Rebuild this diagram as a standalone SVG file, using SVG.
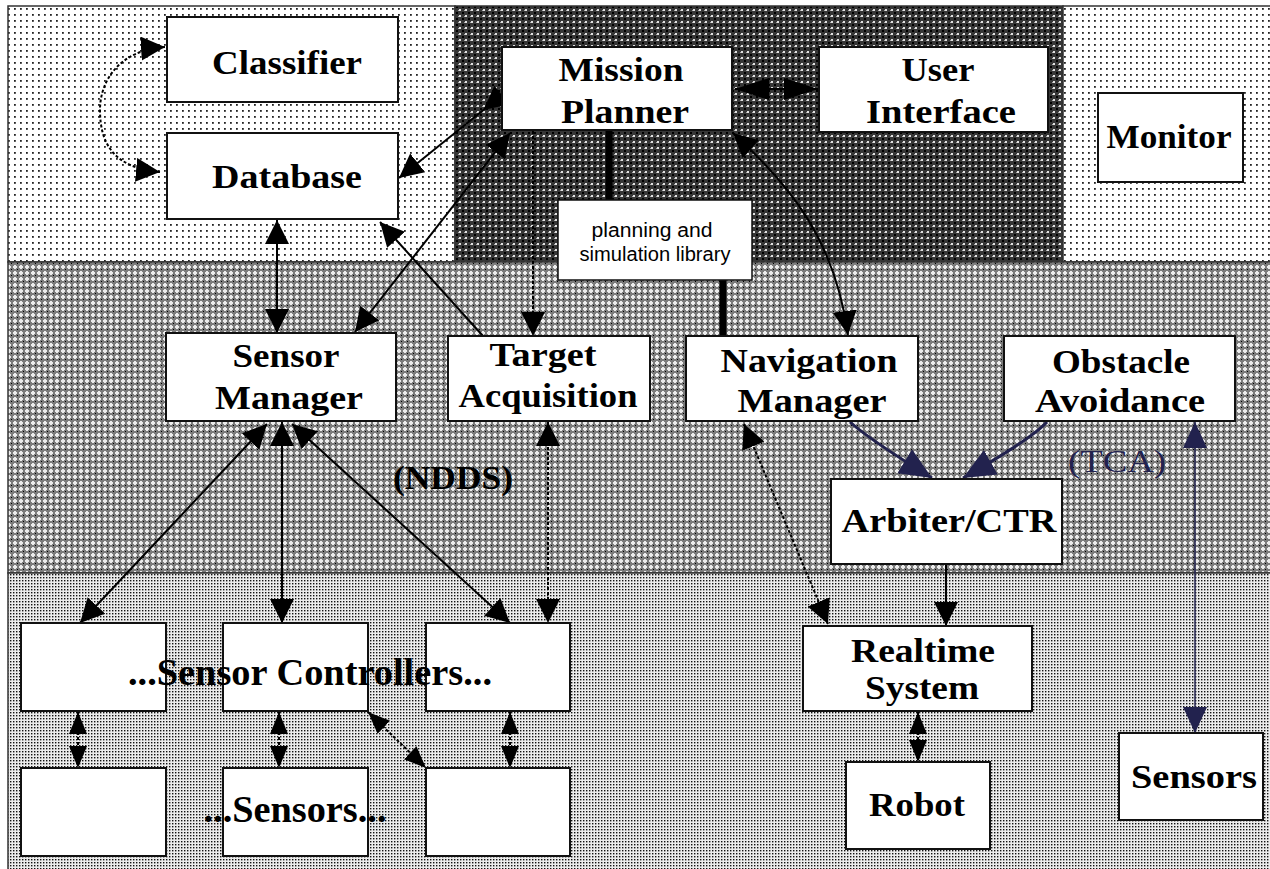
<svg xmlns="http://www.w3.org/2000/svg" width="1270" height="869" viewBox="0 0 1270 869">
<style>
.box{fill:#fff;stroke:#111;stroke-width:2}
.lbl{font-family:"Liberation Serif","Times New Roman",serif;font-weight:bold;font-size:34px;fill:#000;text-anchor:middle}
.big{font-size:37px}
.sans{font-family:"Liberation Sans",Arial,sans-serif;font-weight:normal;font-size:20px;fill:#000;text-anchor:middle}
.tca{font-family:"Liberation Serif","Times New Roman",serif;font-size:32px;fill:#22224e;text-anchor:middle}
.ln{fill:none;stroke:#000;stroke-width:2}
.dash{stroke-dasharray:3 2}
.thick{fill:none;stroke:#000;stroke-width:7}
.navy{fill:none;stroke:#22224e;stroke-width:3}
.navythin{fill:none;stroke:#22224e;stroke-width:1.5}
.panel{stroke:#333;stroke-width:1.5}
</style>
<defs>
<pattern id="dots" width="6" height="6" patternUnits="userSpaceOnUse">
<rect width="6" height="6" fill="#fff"/>
<rect x="2" y="2" width="1.8" height="1.8" fill="#222"/>
</pattern>
<pattern id="dark" width="6" height="6" patternUnits="userSpaceOnUse">
<rect width="6" height="6" fill="#363636"/>
<rect x="0" y="0" width="2" height="2" fill="#000"/>
<rect x="3" y="3" width="2" height="2" fill="#e0e0e0"/>
<rect x="2" y="4" width="1" height="1" fill="#aaa"/>
</pattern>
<pattern id="mid" width="6" height="6" patternUnits="userSpaceOnUse">
<rect width="6" height="6" fill="#7c7c7c"/>
<rect x="2" y="1" width="2" height="4" fill="#ececec"/>
<rect x="1" y="2" width="4" height="2" fill="#ececec"/>
<rect x="5" y="5" width="1" height="1" fill="#000"/>
</pattern>
<pattern id="fine" width="3" height="3" patternUnits="userSpaceOnUse">
<rect width="3" height="3" fill="#ececec"/>
<rect x="1" y="1" width="1.4" height="1.4" fill="#111"/>
</pattern>
<marker id="ah" markerUnits="userSpaceOnUse" markerWidth="26" markerHeight="26" refX="24" refY="12" orient="auto-start-reverse">
<path d="M0,0 L24,12 L0,24 z" fill="#000"/>
</marker>
<marker id="ahF" markerUnits="userSpaceOnUse" markerWidth="26" markerHeight="26" refX="0" refY="12" orient="auto">
<path d="M0,0 L24,12 L0,24 z" fill="#000"/>
</marker>
<marker id="ahS" markerUnits="userSpaceOnUse" markerWidth="24" markerHeight="20" refX="22" refY="9" orient="auto-start-reverse">
<path d="M0,0 L22,9 L0,18 z" fill="#000"/>
</marker>
<marker id="ahL" markerUnits="userSpaceOnUse" markerWidth="36" markerHeight="24" refX="34" refY="11" orient="auto-start-reverse">
<path d="M0,0 L34,11 L0,22 z" fill="#000"/>
</marker>
<marker id="ahN" markerUnits="userSpaceOnUse" markerWidth="34" markerHeight="30" refX="32" refY="14" orient="auto-start-reverse">
<path d="M0,0 L32,14 L0,28 z" fill="#22224e"/>
</marker>
<marker id="ahNs" markerUnits="userSpaceOnUse" markerWidth="28" markerHeight="26" refX="26" refY="12" orient="auto-start-reverse">
<path d="M0,0 L26,12 L0,24 z" fill="#22224e"/>
</marker>
</defs>
<rect width="1270" height="869" fill="#fff"/>
<g id="panels">
<rect class="panel" x="8" y="6" width="447" height="256" fill="url(#dots)"/>
<rect class="panel" x="455" y="6" width="608" height="256" fill="url(#dark)"/>
<rect class="panel" x="1063" y="6" width="210" height="256" fill="url(#dots)"/>
<rect class="panel" x="8" y="262" width="1265" height="311" fill="url(#mid)"/>
<rect class="panel" x="8" y="573" width="1265" height="300" fill="url(#fine)"/>
</g>
<g id="connectors">
<path class="ln dash" d="M 165 47 C 120 50, 100 80, 100 110 C 100 145, 115 168, 160 172" marker-start="url(#ah)" marker-end="url(#ah)"/>
<path class="ln" d="M 502 95 L 399 178" marker-start="url(#ahF)" marker-end="url(#ah)"/>
<path class="ln" d="M 355 332 L 510 133" marker-start="url(#ah)" marker-end="url(#ah)"/>
<path class="ln" d="M 277 220 L 277 333" marker-start="url(#ah)" marker-end="url(#ah)"/>
<path class="ln" d="M 483 336 L 380 222" marker-end="url(#ah)"/>
<path class="ln dash" d="M 533 131 L 533 336" marker-end="url(#ah)"/>
<path class="ln" d="M 735 89 L 818 89" marker-start="url(#ahL)" marker-end="url(#ahL)"/>
<path class="thick" d="M 609 131 L 609 200"/>
<path class="thick" d="M 723 280 L 723 336"/>
<path class="ln" d="M 733 133 C 790 185, 835 240, 848 335" marker-start="url(#ah)" marker-end="url(#ah)"/>
<path class="ln dash" d="M 744 424 L 828 624" marker-start="url(#ah)" marker-end="url(#ah)"/>
<path class="navy" d="M 850 422 Q 870 440, 932 478" marker-end="url(#ahN)"/>
<path class="navy" d="M 1047 422 Q 1030 440, 963 478" marker-end="url(#ahN)"/>
<path class="ln" d="M 946 564 L 946 626" marker-end="url(#ah)"/>
<path class="navythin" d="M 1195 422 L 1195 733" marker-start="url(#ahNs)" marker-end="url(#ahNs)"/>
<path class="ln" d="M 267 424 L 80 623" marker-start="url(#ah)" marker-end="url(#ah)"/>
<path class="ln" d="M 282 422 L 282 623" marker-start="url(#ah)" marker-end="url(#ah)"/>
<path class="ln" d="M 292 424 L 510 623" marker-start="url(#ah)" marker-end="url(#ah)"/>
<path class="ln dash" d="M 548 422 L 548 623" marker-start="url(#ah)" marker-end="url(#ah)"/>
<path class="ln dash" d="M 78 712 L 78 768" marker-start="url(#ahS)" marker-end="url(#ahS)"/>
<path class="ln dash" d="M 279 712 L 279 768" marker-start="url(#ahS)" marker-end="url(#ahS)"/>
<path class="ln dash" d="M 510 712 L 510 768" marker-start="url(#ahS)" marker-end="url(#ahS)"/>
<path class="ln dash" d="M 368 712 L 426 768" marker-start="url(#ahS)" marker-end="url(#ahS)"/>
<path class="ln dash" d="M 918 712 L 918 762" marker-start="url(#ahS)" marker-end="url(#ahS)"/>
</g>
<g id="classifier"><rect class="box" x="167" y="17" width="231" height="85"/><text class="lbl" x="287" y="74" textLength="150" lengthAdjust="spacingAndGlyphs">Classifier</text></g>
<g id="database"><rect class="box" x="167" y="133" width="231" height="86"/><text class="lbl" x="287" y="188" textLength="150" lengthAdjust="spacingAndGlyphs">Database</text></g>
<g id="mission-planner"><rect class="box" x="502" y="47" width="230" height="83"/><text class="lbl" x="621" y="81" textLength="125" lengthAdjust="spacingAndGlyphs">Mission</text><text class="lbl" x="625" y="123" textLength="128" lengthAdjust="spacingAndGlyphs">Planner</text></g>
<g id="user-interface"><rect class="box" x="819" y="47" width="229" height="85"/><text class="lbl" x="938" y="81" textLength="73" lengthAdjust="spacingAndGlyphs">User</text><text class="lbl" x="941" y="123" textLength="150" lengthAdjust="spacingAndGlyphs">Interface</text></g>
<g id="monitor"><rect class="box" x="1098" y="93" width="145" height="89"/><text class="lbl" x="1169" y="148" textLength="125" lengthAdjust="spacingAndGlyphs">Monitor</text></g>
<g id="planning-library"><rect class="box" x="558" y="200" width="194" height="80" style="stroke-width:1.5"/><text class="sans" x="652" y="237" textLength="121" lengthAdjust="spacingAndGlyphs">planning and</text><text class="sans" x="655" y="261" textLength="151" lengthAdjust="spacingAndGlyphs">simulation library</text></g>
<g id="sensor-manager"><rect class="box" x="166" y="333" width="230" height="88"/><text class="lbl" x="286" y="367" textLength="107" lengthAdjust="spacingAndGlyphs">Sensor</text><text class="lbl" x="289" y="409" textLength="148" lengthAdjust="spacingAndGlyphs">Manager</text></g>
<g id="target-acquisition"><rect class="box" x="448" y="336" width="202" height="85"/><text class="lbl" x="543" y="366" textLength="107" lengthAdjust="spacingAndGlyphs">Target</text><text class="lbl" x="548" y="407" textLength="179" lengthAdjust="spacingAndGlyphs">Acquisition</text></g>
<g id="navigation-manager"><rect class="box" x="686" y="336" width="232" height="85"/><text class="lbl" x="809" y="372" textLength="177" lengthAdjust="spacingAndGlyphs">Navigation</text><text class="lbl" x="812" y="412" textLength="149" lengthAdjust="spacingAndGlyphs">Manager</text></g>
<g id="obstacle-avoidance"><rect class="box" x="1004" y="336" width="231" height="85"/><text class="lbl" x="1121" y="373" textLength="138" lengthAdjust="spacingAndGlyphs">Obstacle</text><text class="lbl" x="1120" y="412" textLength="170" lengthAdjust="spacingAndGlyphs">Avoidance</text></g>
<g id="arbiter"><rect class="box" x="831" y="479" width="231" height="85"/><text class="lbl" x="949" y="532" textLength="215" lengthAdjust="spacingAndGlyphs">Arbiter/CTR</text></g>
<g id="ndds-label"><text class="lbl" x="453" y="489" textLength="120" lengthAdjust="spacingAndGlyphs">(NDDS)</text></g>
<g id="tca-label"><text class="tca" x="1117" y="472" textLength="98" lengthAdjust="spacingAndGlyphs">(TCA)</text></g>
<g id="sensor-controller-1"><rect class="box" x="21" y="623" width="145" height="88"/></g>
<g id="sensor-controller-2"><rect class="box" x="223" y="623" width="145" height="88"/></g>
<g id="sensor-controller-3"><rect class="box" x="426" y="623" width="144" height="88"/></g>
<g id="sensor-1"><rect class="box" x="21" y="768" width="145" height="88"/></g>
<g id="sensor-2"><rect class="box" x="223" y="768" width="145" height="88"/></g>
<g id="sensor-3"><rect class="box" x="426" y="768" width="144" height="88"/></g>
<g id="sensor-controllers-label"><text class="lbl big" x="310" y="685" textLength="364" lengthAdjust="spacingAndGlyphs">...Sensor Controllers...</text></g>
<g id="sensors-label"><text class="lbl big" x="295" y="822" textLength="183" lengthAdjust="spacingAndGlyphs">...Sensors...</text></g>
<g id="realtime-system"><rect class="box" x="803" y="626" width="229" height="85"/><text class="lbl" x="923" y="662" textLength="144" lengthAdjust="spacingAndGlyphs">Realtime</text><text class="lbl" x="922" y="699" textLength="114" lengthAdjust="spacingAndGlyphs">System</text></g>
<g id="robot"><rect class="box" x="846" y="762" width="144" height="87"/><text class="lbl" x="917" y="816" textLength="96" lengthAdjust="spacingAndGlyphs">Robot</text></g>
<g id="sensors-right"><rect class="box" x="1119" y="733" width="144" height="87"/><text class="lbl" x="1194" y="788" textLength="126" lengthAdjust="spacingAndGlyphs">Sensors</text></g>
</svg>
